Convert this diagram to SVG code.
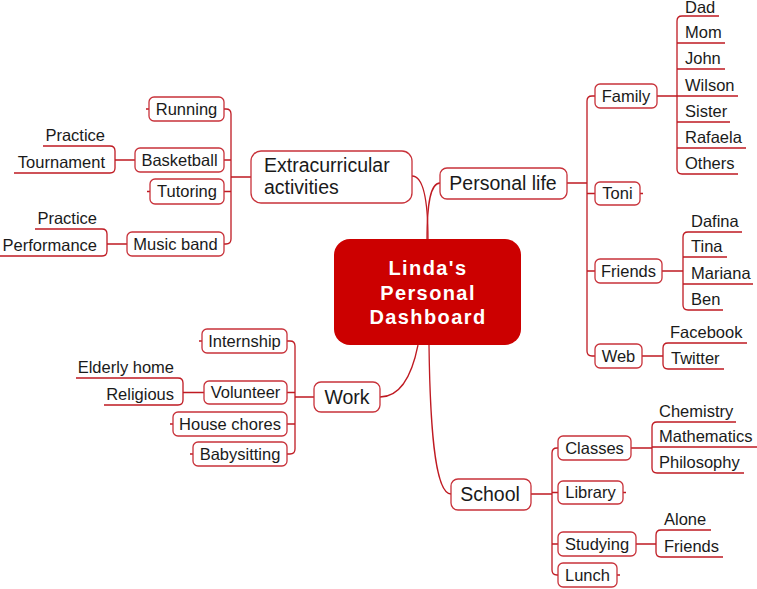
<svg xmlns="http://www.w3.org/2000/svg" width="757" height="589" viewBox="0 0 757 589">
<style>
  .ln{fill:none;stroke:#bf1a22;stroke-width:1.3}
  .bx{fill:#fff;stroke:#c8323a;stroke-width:1.3}
  .t{font-family:"Liberation Sans",Arial,sans-serif;font-size:16.5px;fill:#1a1a1a}
  .m{font-family:"Liberation Sans",Arial,sans-serif;font-size:19.5px;fill:#1a1a1a}
  .c{text-anchor:middle}
  .e{text-anchor:end}
  .ctr{font-family:"Liberation Sans",Arial,sans-serif;font-size:20px;font-weight:bold;fill:#fff;text-anchor:middle;letter-spacing:1.4px}
</style>
<rect width="757" height="589" fill="#fff"/>
<g id="connectors">
  <path class="ln" d="M412,176 C424,176 428,205 428,240"/>
  <path class="ln" d="M440,183 C430,183 427,205 427,240"/>
  <path class="ln" d="M380,397 C400,397 412,375 418,345"/>
  <path class="ln" d="M429,345 C430,420 434,494 451,494"/>
  <path class="ln" d="M567,183 H587 M587,101 V351 M587,101 Q587,96 592,96 H595 M587,193.5 H595 M587,271 H595 M587,351 Q587,356 592,356 H595 M640,193.5 H643"/>
  <path class="ln" d="M657,96 H677 M677,21 V169 M677,21 Q677,16 682,16 H719 M677,43 H725 M677,69 H725 M677,96 H738 M677,122 H730 M677,148 H746 M677,169 Q677,174 682,174 H738"/>
  <path class="ln" d="M662,271 H683 M683,237 V305 M683,237 Q683,232 688,232 H742 M683,257 H727 M683,284 H753 M683,305 Q683,310 688,310 H723"/>
  <path class="ln" d="M642,356 H663 M663,348 V364 M663,348 Q663,343 668,343 H747 M663,364 Q663,369 668,369 H724"/>
  <path class="ln" d="M531,494 H552 M552,453 V570 M552,453 Q552,448 557,448 H558 M552,492.5 H558 M552,544 H558 M552,570 Q552,575 557,575 H558 M623,492.5 H626 M617,575 H620"/>
  <path class="ln" d="M631,448 H652 M652,427 V468 M652,427 Q652,422 657,422 H736 M652,447 H757 M652,468 Q652,473 657,473 H744"/>
  <path class="ln" d="M636,544 H656 M656,535 V552 M656,535 Q656,530 661,530 H711 M656,552 Q656,557 661,557 H723"/>
  <path class="ln" d="M251,177 H231 M231,114 V239 M231,114 Q231,109 226,109 H224 M231,160 H224 M231,191.5 H224 M231,239 Q231,244 226,244 H224 M149,109 H146 M150,191.5 H147"/>
  <path class="ln" d="M135,160 H115 M115,151 V168 M115,151 Q115,146 110,146 H43 M115,168 Q115,173 110,173 H14"/>
  <path class="ln" d="M127,244 H107 M107,234 V251 M107,234 Q107,229 102,229 H35 M107,251 Q107,256 102,256 H0"/>
  <path class="ln" d="M314,397 H295 M295,346 V449 M295,346 Q295,341 290,341 H287 M295,392.5 H287 M295,424 H287 M295,449 Q295,454 290,454 H287 M202,341 H199 M173,424 H170 M193,454 H190"/>
  <path class="ln" d="M204,392.5 H183 M183,383 V400 M183,383 Q183,378 178,378 H76 M183,400 Q183,405 178,405 H104"/>
</g>
<g id="center">
  <rect x="334" y="239" width="187" height="106" rx="16" fill="#cc0000"/>
  <text class="ctr" x="428" y="275">Linda's</text>
  <text class="ctr" x="428" y="300">Personal</text>
  <text class="ctr" x="428" y="324">Dashboard</text>
</g>
<g id="extracurricular">
  <rect class="bx" x="251" y="151" width="161" height="52" rx="10"/>
  <text class="m" x="264" y="172">Extracurricular</text>
  <text class="m" x="264" y="194">activities</text>
</g>
<g id="personal-life">
  <rect class="bx" x="440" y="168" width="127" height="31" rx="7"/>
  <text class="m c" x="503" y="190">Personal life</text>
</g>
<g id="work">
  <rect class="bx" x="314" y="382" width="66" height="30" rx="7"/>
  <text class="m c" x="347" y="404">Work</text>
</g>
<g id="school">
  <rect class="bx" x="451" y="479" width="80" height="31" rx="7"/>
  <text class="m c" x="490" y="501">School</text>
</g>
<g id="family"><rect class="bx" x="595" y="84" width="62" height="24" rx="5"/><text class="t c" x="626" y="101.5">Family</text></g>
<g id="toni"><rect class="bx" x="595" y="182" width="45" height="23" rx="5"/><text class="t c" x="617.5" y="199">Toni</text></g>
<g id="friends"><rect class="bx" x="595" y="259" width="67" height="24" rx="5"/><text class="t c" x="628.5" y="276.5">Friends</text></g>
<g id="web"><rect class="bx" x="595" y="344" width="47" height="24" rx="5"/><text class="t c" x="618.5" y="361.5">Web</text></g>
<g id="dad"><text class="t" x="685" y="13">Dad</text></g>
<g id="mom"><text class="t" x="685" y="38">Mom</text></g>
<g id="john"><text class="t" x="685" y="64">John</text></g>
<g id="wilson"><text class="t" x="685" y="91">Wilson</text></g>
<g id="sister"><text class="t" x="685" y="117">Sister</text></g>
<g id="rafaela"><text class="t" x="685" y="143">Rafaela</text></g>
<g id="others"><text class="t" x="685" y="169">Others</text></g>
<g id="dafina"><text class="t" x="691" y="227">Dafina</text></g>
<g id="tina"><text class="t" x="691" y="252">Tina</text></g>
<g id="mariana"><text class="t" x="691" y="279">Mariana</text></g>
<g id="ben"><text class="t" x="691" y="305">Ben</text></g>
<g id="facebook"><text class="t" x="670" y="338">Facebook</text></g>
<g id="twitter"><text class="t" x="671" y="364">Twitter</text></g>
<g id="classes"><rect class="bx" x="558" y="436" width="73" height="24" rx="5"/><text class="t c" x="594.5" y="453.5">Classes</text></g>
<g id="library"><rect class="bx" x="558" y="481" width="65" height="23" rx="5"/><text class="t c" x="590.5" y="498">Library</text></g>
<g id="studying"><rect class="bx" x="558" y="532" width="78" height="24" rx="5"/><text class="t c" x="597" y="549.5">Studying</text></g>
<g id="lunch"><rect class="bx" x="558" y="563" width="59" height="24" rx="5"/><text class="t c" x="587.5" y="580.5">Lunch</text></g>
<g id="chemistry"><text class="t" x="659" y="417">Chemistry</text></g>
<g id="mathematics"><text class="t" x="659" y="442">Mathematics</text></g>
<g id="philosophy"><text class="t" x="659" y="468">Philosophy</text></g>
<g id="alone"><text class="t" x="664" y="525">Alone</text></g>
<g id="friends2"><text class="t" x="664" y="552">Friends</text></g>
<g id="running"><rect class="bx" x="149" y="97" width="75" height="24" rx="5"/><text class="t c" x="186.5" y="114.5">Running</text></g>
<g id="basketball"><rect class="bx" x="135" y="148" width="89" height="24" rx="5"/><text class="t c" x="179.5" y="165.5">Basketball</text></g>
<g id="tutoring"><rect class="bx" x="150" y="179" width="74" height="25" rx="5"/><text class="t c" x="187" y="197">Tutoring</text></g>
<g id="music-band"><rect class="bx" x="127" y="232" width="97" height="24" rx="5"/><text class="t c" x="175.5" y="249.5">Music band</text></g>
<g id="practice1"><text class="t e" x="105" y="141">Practice</text></g>
<g id="tournament"><text class="t e" x="105" y="168">Tournament</text></g>
<g id="practice2"><text class="t e" x="97" y="224">Practice</text></g>
<g id="performance"><text class="t e" x="97" y="251">Performance</text></g>
<g id="internship"><rect class="bx" x="202" y="329" width="85" height="24" rx="5"/><text class="t c" x="244.5" y="346.5">Internship</text></g>
<g id="volunteer"><rect class="bx" x="204" y="381" width="83" height="23" rx="5"/><text class="t c" x="245.5" y="398">Volunteer</text></g>
<g id="house-chores"><rect class="bx" x="173" y="412" width="114" height="24" rx="5"/><text class="t c" x="230" y="429.5">House chores</text></g>
<g id="babysitting"><rect class="bx" x="193" y="442" width="94" height="24" rx="5"/><text class="t c" x="240" y="459.5">Babysitting</text></g>
<g id="elderly-home"><text class="t e" x="174" y="373">Elderly home</text></g>
<g id="religious"><text class="t e" x="174" y="400">Religious</text></g>
</svg>
